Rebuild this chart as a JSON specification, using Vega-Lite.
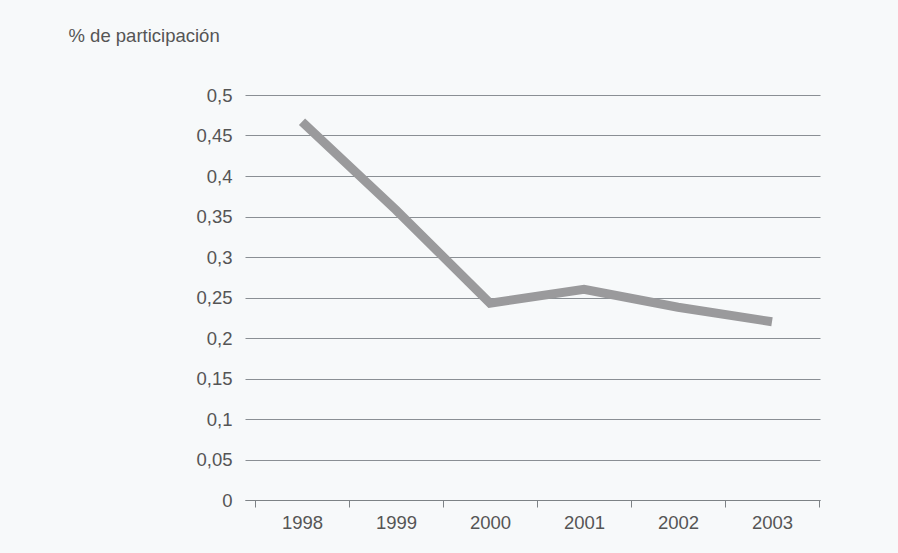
{
  "$schema": "https://vega.github.io/schema/vega-lite/v6.json",
  "width": 575,
  "height": 405,
  "autosize": {"type": "none"},
  "padding": {"left": 245, "top": 95, "right": 78, "bottom": 53},
  "background": "#f7f9fa",
  "config": {
    "view": {"stroke": null},
    "font": "Liberation Sans",
    "axis": {"labelFont": "Liberation Sans", "titleFont": "Liberation Sans"}
  },
  "data": {
    "values": [
      {"year": "1998", "value": 0.467},
      {"year": "1999", "value": 0.358},
      {"year": "2000", "value": 0.243},
      {"year": "2001", "value": 0.26},
      {"year": "2002", "value": 0.238},
      {"year": "2003", "value": 0.22}
    ]
  },
  "mark": {"type": "line", "color": "#9a9a9c", "strokeWidth": 9, "strokeJoin": "miter", "strokeCap": "butt"},
  "encoding": {
    "x": {
      "field": "year",
      "type": "ordinal",
      "scale": {"type": "band", "paddingInner": 0, "paddingOuter": 0.0585, "align": 0.91},
      "axis": {
        "title": null,
        "labelAngle": 0,
        "labelFontSize": 18.5,
        "labelColor": "#555555",
        "labelPadding": 6,
        "domainColor": "#7d8286",
        "domainWidth": 1.2,
        "tickColor": "#7d8286",
        "tickSize": 7,
        "tickBand": "extent",
        "grid": false
      }
    },
    "y": {
      "field": "value",
      "type": "quantitative",
      "scale": {"domain": [0, 0.5], "nice": false},
      "axis": {
        "values": [0, 0.05, 0.1, 0.15, 0.2, 0.25, 0.3, 0.35, 0.4, 0.45, 0.5],
        "labelExpr": "replace(format(datum.value, ''), '.', ',')",
        "labelFontSize": 18.5,
        "labelColor": "#555555",
        "labelPadding": 13,
        "ticks": false,
        "domain": false,
        "grid": true,
        "gridColor": "#8a8f94",
        "gridWidth": 1,
        "title": "% de participación",
        "titleAngle": 0,
        "titleAlign": "left",
        "titleBaseline": "middle",
        "titleX": -177,
        "titleY": -60,
        "titleFontSize": 18.5,
        "titleFontWeight": "normal",
        "titleColor": "#555555"
      }
    }
  }
}
